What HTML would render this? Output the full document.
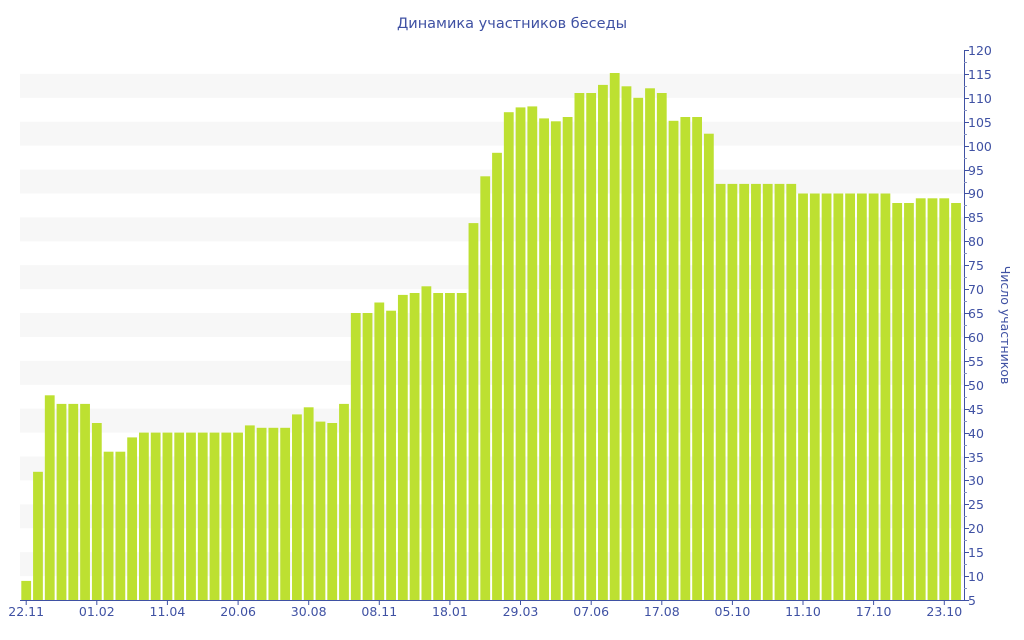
<!DOCTYPE html>
<html><head><meta charset="utf-8"><style>
html,body{margin:0;padding:0;background:#fff;width:1024px;height:640px;overflow:hidden}
svg{display:block}
text{font-family:"DejaVu Sans","Liberation Sans",sans-serif;fill:#3f51a3}
</style></head><body>
<svg id="c" width="1024" height="640" xmlns="http://www.w3.org/2000/svg">
<text x="512" y="28" text-anchor="middle" font-size="14.5">Динамика участников беседы</text>
<text transform="translate(1001,325) rotate(90)" text-anchor="middle" font-size="12.5">Число участников</text>
<g id="g"></g>
</svg>
<script>
var vals=[9,31.8,47.8,46,46,46,42,36,36,39,40,40,40,40,40,40,40,40,40,41.5,41,41,41,43.8,45.3,42.3,42,46,
65,65,67.2,65.5,68.8,69.2,70.6,69.2,69.2,69.2,83.8,93.6,98.5,107,108,108.2,105.7,105.1,106,
111,111,112.7,115.2,112.4,110,112,111,105.2,106,106,102.5,92,92,92,92,92,92,92,90,90,90,90,90,90,90,90,88,88,89,89,89,88];
function Y(v){return 600-(v-5)*550/115;}
var s='';
for(var v=10;v<120;v+=10){s+='<rect x="20" y="'+Y(v+5)+'" width="944" height="'+(Y(v)-Y(v+5))+'" fill="#f7f7f7"/>';}
var p=11.77,x0=21.3;
for(var i=0;i<vals.length;i++){var y=Y(vals[i]);s+='<rect x="'+(x0+i*p).toFixed(2)+'" y="'+y.toFixed(1)+'" width="9.8" height="'+(600-y).toFixed(1)+'" fill="#bde031"/>';}
s+='<line x1="964.5" y1="50" x2="964.5" y2="600" stroke="#3f51a3" stroke-width="1"/>';
s+='<line x1="20" y1="600.5" x2="965" y2="600.5" stroke="#3f51a3" stroke-width="1"/>';
for(var v=5;v<=120;v+=5){var y=Math.round(Y(v))+0.5;s+='<line x1="964" y1="'+y+'" x2="969" y2="'+y+'" stroke="#3f51a3"/>';s+='<text x="968" y="'+(y+4.5)+'" font-size="12.5">'+v+'</text>';
if(v<120){var y2=Math.round(Y(v+2.5))+0.5;s+='<line x1="964" y1="'+y2+'" x2="967" y2="'+y2+'" stroke="#8894c4"/>';}}
var labs=['22.11','01.02','11.04','20.06','30.08','08.11','18.01','29.03','07.06','17.08','05.10','11.10','17.10','23.10'];
for(var j=0;j<labs.length;j++){var cx=x0+4.9+j*6*p;s+='<line x1="'+cx.toFixed(1)+'" y1="600" x2="'+cx.toFixed(1)+'" y2="605" stroke="#3f51a3"/>';s+='<text x="'+cx.toFixed(1)+'" y="616" text-anchor="middle" font-size="12.5">'+labs[j]+'</text>';}
document.getElementById('g').innerHTML=s;
</script>
</body></html>
